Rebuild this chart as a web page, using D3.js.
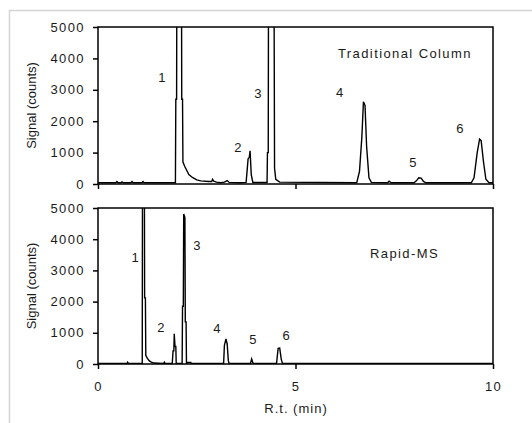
<!DOCTYPE html>
<html>
<head>
<meta charset="utf-8">
<script src="https://cdn.jsdelivr.net/npm/d3@7"></script>
<style>
  body { margin: 0; background: #fff; }
  svg text { font-family: Arial, "Liberation Sans", sans-serif; fill: #1a1a1a; }
</style>
</head>
<body>
<svg width="532" height="423"></svg>
<script>
// top trace : traditional column
var topTime = [0, 0.45, 0.48, 0.51, 0.58, 0.61, 0.64, 0.83, 0.86, 0.89, 1.11, 1.14, 1.17,
  1.96, 1.97, 1.99, 2.0, 2.11, 2.12, 2.14, 2.15, 2.2, 2.3, 2.4, 2.5, 2.6, 2.8, 2.88, 2.9, 2.93,
  3.0, 3.1, 3.2, 3.27, 3.32, 3.6, 3.75, 3.8, 3.83, 3.85, 3.88, 3.92, 4.28, 4.29, 4.31, 4.32,
  4.45, 4.47, 4.5, 4.6, 6.55, 6.62, 6.68, 6.72, 6.76, 6.8, 6.86, 6.92, 7.33, 7.37, 7.42,
  8.0, 8.06, 8.12, 8.18, 8.24, 8.3, 9.45, 9.52, 9.6, 9.66, 9.7, 9.76, 9.82, 9.9, 10];
var topSignal = [40, 40, 80, 40, 40, 70, 40, 40, 80, 40, 40, 80, 40,
  40, 2700, 2700, 9000, 9000, 2700, 2700, 700, 550, 300, 200, 130, 100, 80, 80, 150, 90,
  60, 40, 60, 110, 50, 40, 50, 800, 850, 1060, 300, 50, 50, 1000, 1000, 9000,
  9000, 500, 150, 60, 40, 400, 1500, 2620, 2500, 1200, 200, 50, 40, 90, 40,
  40, 100, 200, 190, 80, 40, 40, 200, 1000, 1430, 1380, 700, 150, 40, 40];

// bottom trace : rapid-MS
var botTime = [0, 0.73, 0.75, 0.77, 1.12, 1.13, 1.17, 1.18, 1.2, 1.21, 1.25, 1.3, 1.35, 1.42,
  1.66, 1.68, 1.7, 1.88, 1.9, 1.92, 1.93, 1.95, 1.97, 1.98, 2.13, 2.14, 2.16, 2.17, 2.2,
  2.21, 2.23, 2.24, 2.27, 2.35, 2.36, 3.18, 3.2, 3.24, 3.27, 3.3, 3.32, 3.86, 3.89, 3.92,
  3.94, 4.52, 4.56, 4.6, 4.64, 4.67, 10];
var botSignal = [15, 15, 60, 15, 15, 9000, 9000, 2120, 2120, 280, 180, 100, 60, 30,
  15, 60, 15, 15, 420, 420, 970, 560, 560, 15, 15, 1850, 1850, 4810, 4700,
  1350, 1350, 15, 50, 50, 15, 15, 600, 800, 650, 100, 15, 15, 160, 40,
  15, 15, 500, 510, 150, 15, 15];

var yTicks = [0, 1000, 2000, 3000, 4000, 5000];
var xTicks = [0, 5, 10];

var topLabels = ["1", "2", "3", "4", "5", "6"];
var topLabelT = [1.62, 3.54, 4.05, 6.12, 7.97, 9.16];
var topLabelS = [3408, 1178, 2898, 2930, 700, 1783];
var botLabels = ["1", "2", "3", "4", "5", "6"];
var botLabelT = [0.94, 1.59, 2.5, 3.01, 3.92, 4.76];
var botLabelS = [3407, 1163, 3804, 1131, 779, 907];

var svg = d3.select("svg");

// light frame around the figure
svg.append("path")
    .attr("d", "M9.5,423V10.5H532")
    .attr("fill", "none")
    .attr("stroke", "#d4d4d4")
    .attr("stroke-width", 1.5);

var left = 98, right = 493;

function panel(id, top, bottom, times, signals, labels, labT, labS, title, titleX, titleY, showX) {
    var x = d3.scaleLinear().domain([0, 10]).range([left, right]);
    var y = d3.scaleLinear().domain([0, 5000]).range([bottom, top]);

    svg.append("clipPath").attr("id", id)
        .append("rect")
        .attr("x", left).attr("y", top)
        .attr("width", right - left).attr("height", bottom - top);

    var line = d3.line()
        .x(function (d, i) { return x(times[i]); })
        .y(function (d) { return y(d); });

    svg.append("path")
        .datum(signals)
        .attr("clip-path", "url(#" + id + ")")
        .attr("d", line)
        .attr("fill", "none")
        .attr("stroke", "#000")
        .attr("stroke-width", 1.4);

    // frame
    svg.append("rect")
        .attr("x", left).attr("y", top)
        .attr("width", right - left).attr("height", bottom - top)
        .attr("fill", "none")
        .attr("stroke", "#000")
        .attr("stroke-width", 1.5);

    var yAxis = svg.append("g")
        .attr("transform", "translate(" + left + ",0)")
        .call(d3.axisLeft(y).tickValues(yTicks).tickFormat(d3.format("d")).tickSize(5).tickPadding(8));
    yAxis.select(".domain").remove();
    yAxis.selectAll("line").attr("stroke", "#000").attr("stroke-width", 1.5);
    yAxis.selectAll("text")
        .attr("font-size", 13)
        .attr("letter-spacing", 1.4)
        .attr("fill", "#1a1a1a");

    var xAxis = svg.append("g")
        .attr("transform", "translate(0," + bottom + ")")
        .call(d3.axisBottom(x).tickValues(xTicks).tickFormat(d3.format("d")).tickSize(5).tickPadding(13));
    xAxis.select(".domain").remove();
    xAxis.selectAll("line").attr("stroke", "#000").attr("stroke-width", 1.5);
    xAxis.selectAll("text")
        .attr("font-size", 13)
        .attr("letter-spacing", 1.4)
        .attr("fill", "#1a1a1a")
        .style("display", showX ? null : "none");

    svg.append("text")
        .attr("transform", "translate(36," + ((top + bottom) / 2) + ") rotate(-90)")
        .attr("text-anchor", "middle")
        .attr("font-size", 13)
        .text("Signal (counts)");

    svg.selectAll(".lab-" + id)
        .data(labels)
        .enter()
        .append("text")
        .attr("x", function (d, i) { return x(labT[i]); })
        .attr("y", function (d, i) { return y(labS[i]); })
        .attr("dy", "0.35em")
        .attr("text-anchor", "middle")
        .attr("font-size", 13)
        .text(function (d) { return d; });

    svg.append("text")
        .attr("x", titleX)
        .attr("y", titleY)
        .attr("dy", "0.35em")
        .attr("font-size", 13)
        .attr("letter-spacing", 1.4)
        .text(title);
}

panel("top", 27, 184, topTime, topSignal, topLabels, topLabelT, topLabelS,
    "Traditional Column", 338, 53, false);
panel("bot", 208, 364, botTime, botSignal, botLabels, botLabelT, botLabelS,
    "Rapid-MS", 370, 253, true);

svg.append("text")
    .attr("x", 296)
    .attr("y", 408)
    .attr("dy", "0.35em")
    .attr("text-anchor", "middle")
    .attr("font-size", 13)
    .attr("letter-spacing", 1)
    .text("R.t. (min)");
</script>
</body>
</html>
